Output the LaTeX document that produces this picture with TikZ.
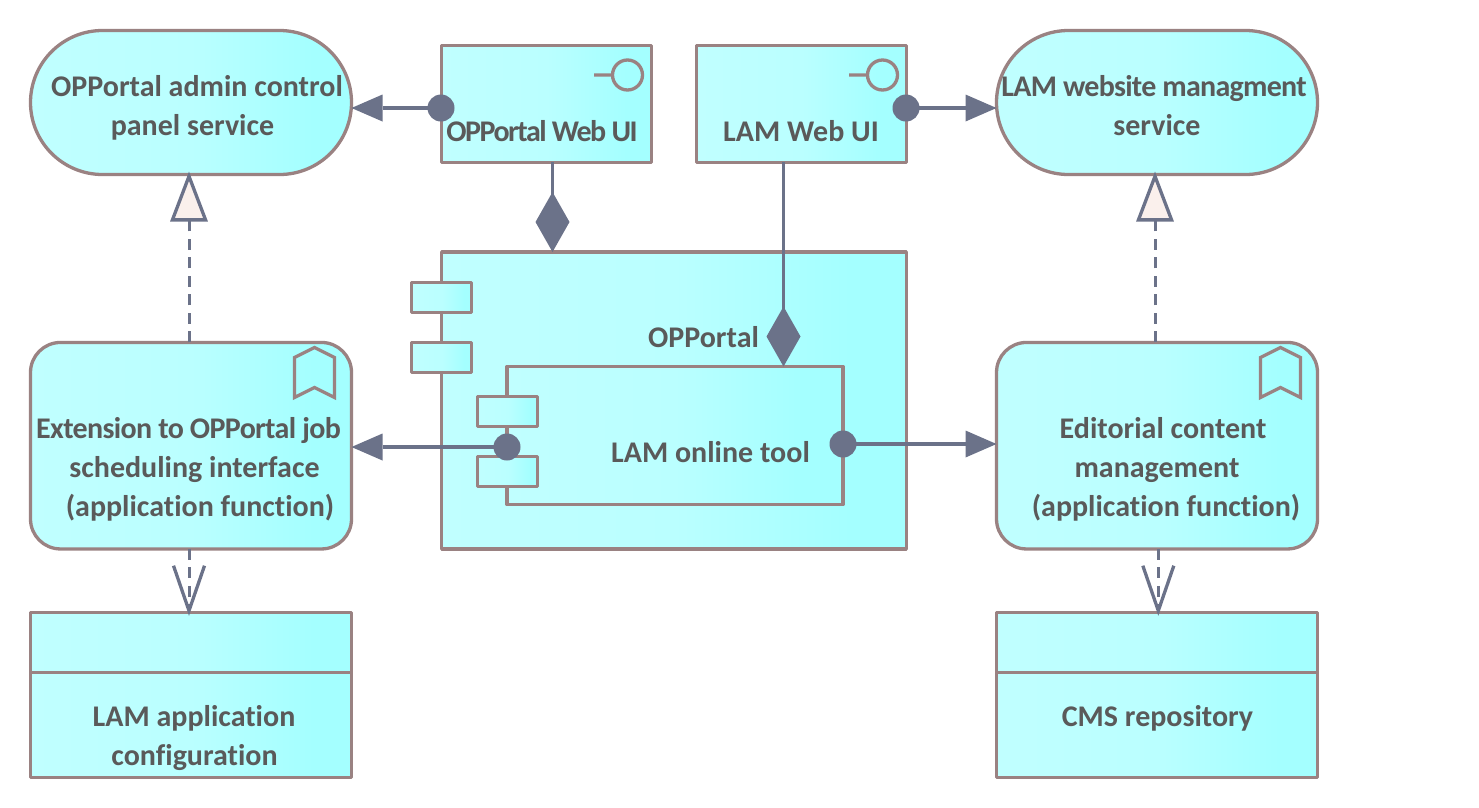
\documentclass[tikz,border=0pt]{standalone}
\usepackage{fontspec}
\setmainfont[Ligatures=NoCommon]{Carlito}
\usetikzlibrary{arrows.meta,calc}
\definecolor{edgec}{HTML}{9A8282}
\definecolor{connc}{HTML}{6B7289}
\definecolor{textc}{HTML}{5A5A5A}
\definecolor{gradL}{HTML}{C0FFFF}
\definecolor{gradM}{HTML}{BAFFFF}
\definecolor{gradR}{HTML}{A4FFFF}
\definecolor{realf}{HTML}{FAF0EC}
\pgfdeclarehorizontalshading{boxgrad}{100bp}{color(0bp)=(gradL); color(25bp)=(gradL); color(50bp)=(gradM); color(69bp)=(gradR); color(75bp)=(gradR); color(100bp)=(gradR)}
\tikzset{
  x=1pt,y=-1pt,
  archbox/.style={draw=edgec,line width=3.3pt,shading=boxgrad,outer sep=0pt,inner sep=0pt,line join=round},
  tabbox/.style={archbox,minimum width=60,minimum height=30},
  label/.style={font=\fontsize{30}{39}\selectfont\bfseries,text=textc,inner sep=0pt,outer sep=0pt,anchor=base},
  conn/.style={draw=connc,line width=3.4pt},
  dashconn/.style={conn,line width=3pt,dash pattern=on 11pt off 7.5pt},
  dot/.style={circle,fill=connc,minimum size=27,inner sep=0pt,outer sep=0pt},
  icon/.style={draw=edgec,line width=3.3pt,line join=miter},
  tipfilled/.style={-{Triangle[length=31pt,width=27pt,fill=connc,line width=0pt]}},
  tipcomp/.style={-{Kite[length=60pt,width=34pt,inset=30pt,fill=connc,line width=0pt]}},
  tipreal/.style={-{Triangle[length=50pt,width=37pt,fill=realf,line width=3.3pt,sep=0pt]},shorten >=-3pt},
  tipopen/.style={-{Straight Barb[length=45pt,width=31pt,line width=3.3pt]},shorten >=-3pt},
}
\begin{document}
\begin{tikzpicture}
\useasboundingbox (0,0) rectangle (1479,807);
% services
\node[archbox,minimum width=321,minimum height=144,rounded corners=72pt] (svcA) at (191,102.5) {};
\node[archbox,minimum width=321,minimum height=144,rounded corners=72pt] (svcB) at (1157,102.5) {};
% interfaces
\node[archbox,minimum width=209.6,minimum height=117] (uiA) at (546.5,103.7) {};
\node[archbox,minimum width=209.6,minimum height=117] (uiB) at (801.6,103.7) {};
\draw[icon] (627.5,75) circle (15) (612.5,75) -- (594,75);
\draw[icon] (882.5,75) circle (15) (867.5,75) -- (849,75);
% main component
\node[archbox,minimum width=464.7,minimum height=297] (opp) at (674,400.5) {};
\node[tabbox] (oppT1) at (441.5,297.5) {};
\node[tabbox] (oppT2) at (441.5,357.4) {};
% inner component
\node[archbox,minimum width=336,minimum height=138] (lam) at (675,435.5) {};
\node[tabbox] (lamT1) at (507.5,411.5) {};
\node[tabbox] (lamT2) at (507.5,471.5) {};
% functions
\node[archbox,minimum width=321,minimum height=206.5,rounded corners=30pt] (fnA) at (191,445.7) {};
\node[archbox,minimum width=321,minimum height=206.5,rounded corners=30pt] (fnB) at (1157,445.7) {};
\draw[icon] (294.5,397.5) -- (294.5,357.5) -- (314.5,347.5) -- (334.5,357.5) -- (334.5,397.5) -- (314.5,387.5) -- cycle;
\draw[icon] (1260.5,397.5) -- (1260.5,357.5) -- (1280.5,347.5) -- (1300.5,357.5) -- (1300.5,397.5) -- (1280.5,387.5) -- cycle;
% data objects
\node[archbox,minimum width=321,minimum height=164.5,rounded corners=0pt] (dataA) at (191,695) {};
\node[archbox,minimum width=321,minimum height=164.5,rounded corners=0pt] (dataB) at (1157,695) {};
\draw[icon] (dataA.west |- 0,672.3) -- (dataA.east |- 0,672.3);
\draw[icon] (dataB.west |- 0,672.3) -- (dataB.east |- 0,672.3);
% anchors for connectors
\coordinate (cAx) at (552.5,0);
\coordinate (cBx) at (783.5,0);
\coordinate (rAt) at (189,0);
\coordinate (rBt) at (1155,0);
\coordinate (sBt) at (1158.3,0);
% dots
\node[dot] (dotUiA) at (441,108) {};
\node[dot] (dotUiB) at (906,108) {};
\node[dot] (dotLamL) at (507,447) {};
\node[dot] (dotLamR) at (843,444) {};
% connectors
\draw[conn,tipfilled] (dotUiA.center) -- (dotUiA -| svcA.east);
\draw[conn,tipfilled] (dotUiB.center) -- (dotUiB -| svcB.west);
\draw[conn,tipfilled] (dotLamL.center) -- (dotLamL -| fnA.east);
\draw[conn,tipfilled] (dotLamR.center) -- (dotLamR -| fnB.west);
\draw[conn,tipcomp] (cAx |- uiA.south) -- (cAx |- opp.north);
\draw[conn,tipcomp] (cBx |- uiB.south) -- (cBx |- lam.north);
\draw[dashconn,tipreal] (rAt |- fnA.north) -- (rAt |- svcA.south);
\draw[dashconn,tipreal] (rBt |- fnB.north) -- (rBt |- svcB.south);
\draw[dashconn,tipopen] (rAt |- fnA.south) -- (rAt |- dataA.north);
\draw[dashconn,tipopen] (sBt |- fnB.south) -- (sBt |- dataB.north);
% labels
\node[label] (tA1) at (197,96) {OPPortal admin control};
\node[label] (tA2) at (192.5,135) {panel service};
\node[label] (tU1) at (542,141) {\addfontfeature{LetterSpace=-5}OPPortal Web UI};
\node[label] (tU2) at (801,141) {LAM Web UI};
\node[label] (tB1) at (1154,96) {\addfontfeature{LetterSpace=-2.4}LAM website managment};
\node[label] (tB2) at (1157,135) {service};
\node[label] (tO) at (703.5,347) {OPPortal};
\node[label] (tL) at (710.5,462) {LAM online tool};
\node[label] (tF1) at (188.5,438) {\addfontfeature{LetterSpace=-2.2}Extension to OPPortal job};
\node[label] (tF2) at (194.5,477) {scheduling interface};
\node[label] (tF3) at (200,516) {(application function)};
\node[label] (tG1) at (1163,438) {Editorial content};
\node[label] (tG2) at (1157,477) {management};
\node[label] (tG3) at (1166,516) {(application function)};
\node[label] (tD1) at (194,726) {LAM application};
\node[label] (tD2) at (194.5,765) {configuration};
\node[label] (tE) at (1157.5,726) {CMS repository};
\end{tikzpicture}
\end{document}
